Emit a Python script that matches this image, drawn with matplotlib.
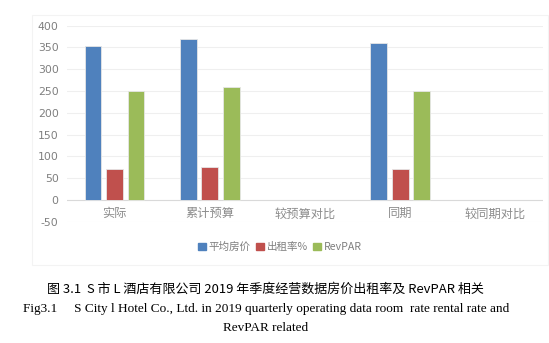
import matplotlib
matplotlib.use("Agg")
import matplotlib.pyplot as plt
from matplotlib.patches import Rectangle
import numpy as np

categories = ["实际", "累计预算", "较预算对比", "同期", "较同期对比"]
series_names = ["平均房价", "出租率%", "RevPAR"]
avg_price = [353, 369, np.nan, 360, np.nan]
occupancy = [71, 75, np.nan, 72, np.nan]
revpar = [249, 259, np.nan, 251, np.nan]
yticks = [-50, 0, 50, 100, 150, 200, 250, 300, 350, 400]
colors = ["#4F81BD", "#C0504D", "#9BBB59"]
caption_cn = "图 3.1  S 市 L 酒店有限公司 2019 年季度经营数据房价出租率及 RevPAR 相关"
caption_en1 = "Fig3.1     S City l Hotel Co., Ltd. in 2019 quarterly operating data room  rate rental rate and"
caption_en2 = "RevPAR related"

plt.rcParams['font.family'] = ['Noto Sans CJK SC', 'DejaVu Sans']

fig = plt.figure(figsize=(5.49, 3.43), dpi=100)
fig.patch.set_facecolor("white")

# chart frame
fig.patches.append(Rectangle((32/549, 1-265/343), (548-32)/549, (265-15)/343,
                             transform=fig.transFigure, fill=False,
                             edgecolor="#f3f3f3", linewidth=0.8))

ax = fig.add_axes([67/549, 1-221.7/343, 476/549, (221.7-25.7)/343])
x = np.arange(len(categories))
w = 0.175
step = 0.226
for i, (vals, c) in enumerate(zip([avg_price, occupancy, revpar], colors)):
    ax.bar(x + (i-1)*step, vals, width=w, color=c, edgecolor="#e6e6e6",
           linewidth=0.6, label=series_names[i], zorder=3)

ax.set_xlim(-0.5, len(categories)-0.5)
ax.set_ylim(-50, 400)
ax.set_yticks(yticks)
ax.set_yticklabels([str(t) for t in yticks], color="#7f7f7f", fontsize=7.8,
                   family=['DejaVu Sans'])
ax.tick_params(axis='y', length=0, pad=6)
ax.set_xticks([])
for t in yticks:
    ax.axhline(t, color="#d9d9d9" if t == 0 else "#efefef", linewidth=0.8, zorder=1)
for s in ax.spines.values():
    s.set_visible(False)
for xi, lab in zip(x, categories):
    ax.text(xi, -32, lab, ha="center", va="center", color="#8c8c8c", fontsize=8.8)

# legend
handles = [Rectangle((0, 0), 1, 1, color=c) for c in colors]
leg = fig.legend(handles, series_names, loc="center", bbox_to_anchor=(280/549, 1-247/343),
                 ncol=3, frameon=False, fontsize=7.6, handlelength=0.7, handleheight=0.7,
                 handletextpad=0.3, columnspacing=0.5)
for t in leg.get_texts():
    t.set_color("#7f7f7f")

fig.text(0.5*(46+485)/549, 1-289/343, caption_cn, ha="center", va="center", fontsize=9.4,
         family=['Noto Sans CJK SC', 'DejaVu Sans'])
fig.text(0.5*(28+505)/549, 1-309/343, caption_en1, ha="center", va="center", fontsize=9.5,
         family=['Liberation Serif'])
fig.text(0.5*(223+308)/549, 1-328/343, caption_en2, ha="center", va="center", fontsize=9.5,
         family=['Liberation Serif'])

fig.savefig("out.png", dpi=100)
